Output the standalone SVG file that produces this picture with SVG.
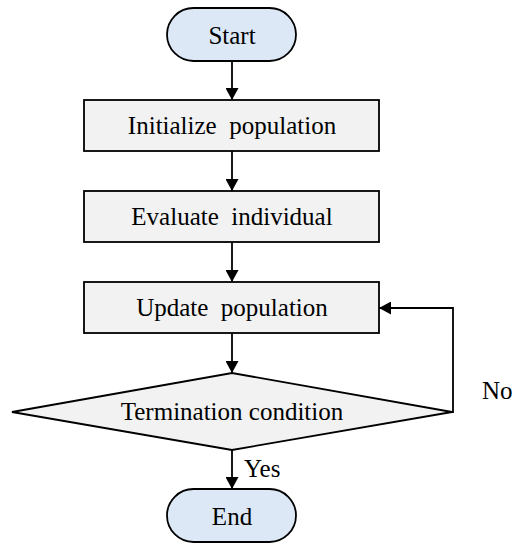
<svg xmlns="http://www.w3.org/2000/svg" width="517" height="550" viewBox="0 0 517 550">
<style>
.term{fill:#dce8f6;stroke:#000;stroke-width:1.8}
.box{fill:#f2f2f2;stroke:#000;stroke-width:1.8}
.t{font-family:"Liberation Serif",serif;font-size:25px;fill:#000;text-anchor:middle;white-space:pre}
.l{font-family:"Liberation Serif",serif;font-size:25px;fill:#000}
.c{fill:none;stroke:#000;stroke-width:1.8}
</style>
<defs>
<marker id="ah" markerWidth="12" markerHeight="13" refX="12" refY="6.5" orient="auto" markerUnits="userSpaceOnUse" viewBox="0 0 12 13">
<path d="M0,0 L12,6.5 L0,13 Z" fill="#000"/>
</marker>
</defs>
<g id="start"><rect class="term" x="167" y="8" width="129" height="53" rx="26.5"/><text class="t" x="232" y="44">Start</text></g>
<g id="init"><rect class="box" x="84" y="100" width="295" height="51"/><text class="t" x="232" y="134">Initialize  population</text></g>
<g id="eval"><rect class="box" x="84" y="191" width="295" height="51"/><text class="t" x="232" y="225">Evaluate  individual</text></g>
<g id="update"><rect class="box" x="84" y="282" width="295" height="51"/><text class="t" x="232" y="316">Update  population</text></g>
<g id="cond"><polygon class="box" points="12,412 232,373 452,412 232,450"/><text class="t" x="232" y="420">Termination condition</text></g>
<g id="end"><rect class="term" x="167" y="489" width="129" height="53" rx="26.5"/><text class="t" x="232" y="525">End</text></g>
<g id="connectors">
<line class="c" x1="232" y1="61" x2="232" y2="100" marker-end="url(#ah)"/>
<line class="c" x1="232" y1="151" x2="232" y2="191" marker-end="url(#ah)"/>
<line class="c" x1="232" y1="242" x2="232" y2="282" marker-end="url(#ah)"/>
<line class="c" x1="232" y1="333" x2="232" y2="373" marker-end="url(#ah)"/>
<line class="c" x1="232" y1="450" x2="232" y2="489" marker-end="url(#ah)"/>
<polyline class="c" points="452,412 453,412 453,308 379,308" marker-end="url(#ah)"/>
<text class="l" x="244" y="477">Yes</text>
<text class="l" x="482" y="399">No</text>
</g>
</svg>
